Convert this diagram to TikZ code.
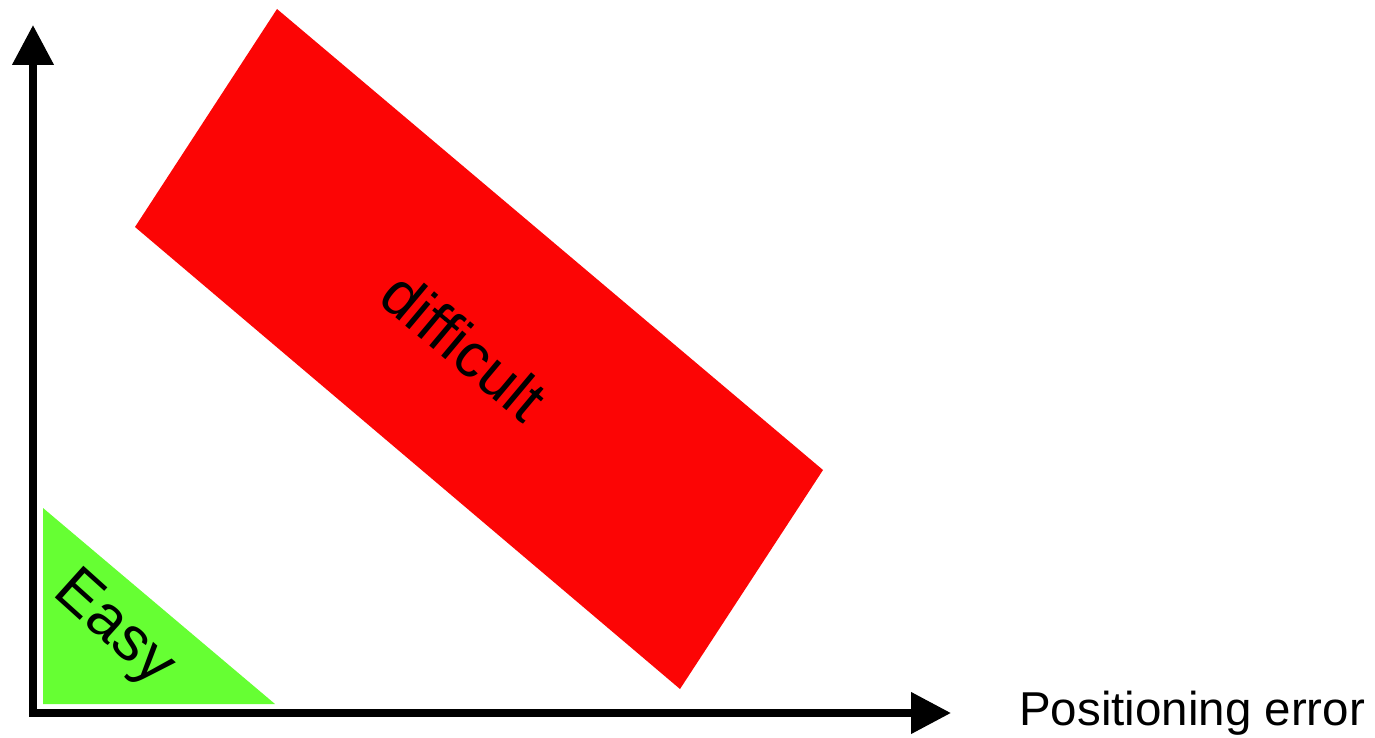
\documentclass[tikz,border=0pt]{standalone}
\usepackage{fontspec}
\setmainfont{Liberation Sans}
\usetikzlibrary{arrows.meta, positioning}

\begin{document}
\begin{tikzpicture}[
    x=1pt, y=-1pt,
    axis/.style={line width=7.5pt, -{Triangle[length=40pt, width=40pt]}},
    region/.style={draw=none},
    tag/.style={font=\fontsize{62}{72}\selectfont, inner sep=0pt}
]
    \useasboundingbox (0,0) rectangle (1375,738);

    % === Regions ===
    \fill[region, fill={rgb,255:red,252;green,5;blue,5}]
        (277,9) -- (823,470) -- (680,689) -- (135,227) -- cycle;
    \fill[region, fill={rgb,255:red,102;green,255;blue,51}]
        (43,508) -- (275,704) -- (43,704) -- cycle;

    \node[tag, rotate=-40] (difficult) at (464,346) {difficult};
    \node[tag, rotate=-42] (easy) at (113,630) {Easy};

    % === Axes ===
    \coordinate (origin) at (33,713);
    \coordinate (ytip) at (33,25);
    \coordinate (xtip) at (951,713);
    \draw[axis] (origin) -- (ytip);
    \draw[axis] ([xshift=-3.75pt]origin) -- (xtip);

    \node[font=\fontsize{47.5}{56}\selectfont, anchor=west, inner sep=0pt] (xlabel) at (1019,713) {Positioning error};
\end{tikzpicture}
\end{document}
